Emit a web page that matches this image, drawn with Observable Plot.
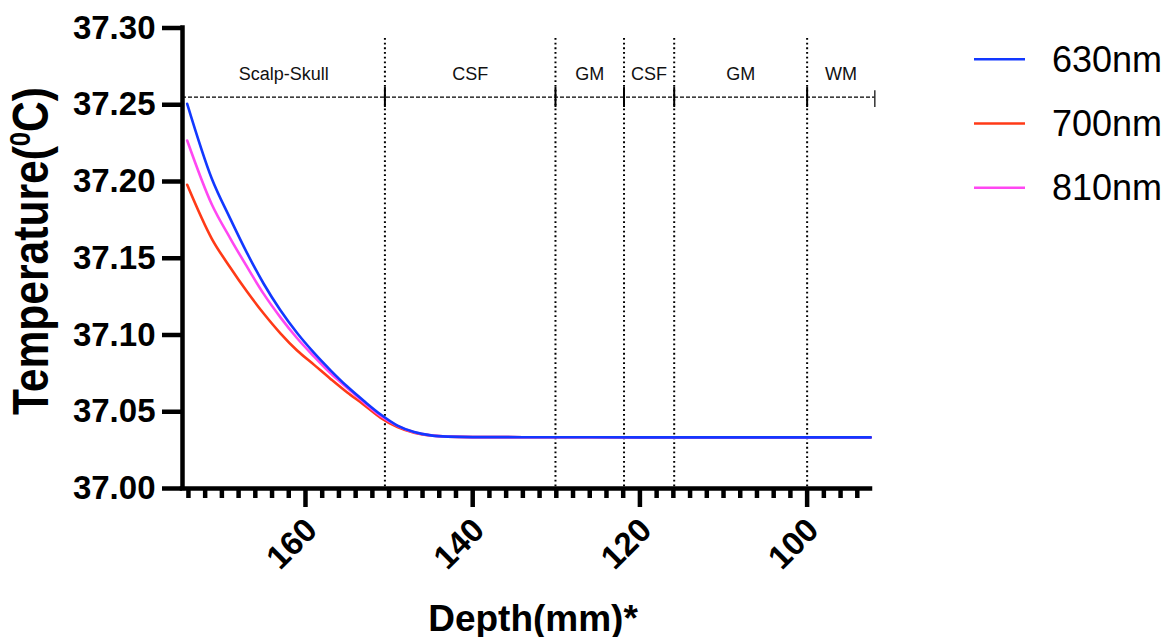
<!DOCTYPE html>
<html>
<head>
<meta charset="utf-8">
<script src="https://cdn.jsdelivr.net/npm/d3@7"></script>
<script src="https://cdn.jsdelivr.net/npm/@observablehq/plot@0.6"></script>
<style>
  html, body { margin: 0; padding: 0; background: #fff; }
  #chart { position: relative; width: 1174px; height: 637px; }
  #legend { position: absolute; left: 960px; top: 20px; }
</style>
</head>
<body>
<div id="chart"></div>
<script>
// Temperature profile through the head, three wavelengths
const depth = [174.15, 171.2, 169, 167, 165, 163, 161, 159, 157, 155, 153, 151, 149, 147, 145, 143, 140, 130, 120, 110, 100, 92.4];
const temp630 = [37.2506, 37.2018, 37.1758, 37.1535, 37.1334, 37.1161, 37.1013, 37.0885, 37.0770, 37.0664, 37.0570, 37.0482, 37.0410, 37.0368, 37.0346, 37.0338, 37.0335, 37.0334, 37.0333, 37.0333, 37.0333, 37.0333];
const temp700 = [37.1979, 37.1627, 37.1440, 37.1283, 37.1140, 37.1011, 37.0899, 37.0807, 37.0714, 37.0625, 37.0545, 37.0460, 37.0400, 37.0363, 37.0345, 37.0338, 37.0335, 37.0334, 37.0333, 37.0333, 37.0333, 37.0333];
const temp810 = [37.2267, 37.1850, 37.1630, 37.1445, 37.1268, 37.1115, 37.0979, 37.0861, 37.0750, 37.0655, 37.0560, 37.0472, 37.0408, 37.0366, 37.0346, 37.0338, 37.0335, 37.0334, 37.0333, 37.0333, 37.0333, 37.0333];

const seriesNames = ["630nm", "700nm", "810nm"];
const seriesColors = ["#1238ff", "#ff3a17", "#ff47f2"];

// tissue layers along the depth axis
const layerNames = ["Scalp-Skull", "CSF", "GM", "CSF", "GM", "WM"];
const layerEdges = [174.71, 150.5, 130.1, 121.9, 115.9, 100, 91.9];

const yTicks = [37.00, 37.05, 37.10, 37.15, 37.20, 37.25, 37.30];
const xMajorTicks = [160, 140, 120, 100];
const xMinorTicks = [174, 172, 170, 168, 166, 164, 162, 158, 156, 154, 152, 150, 148, 146, 144, 142, 138, 136, 134, 132, 130, 128, 126, 124, 122, 118, 116, 114, 112, 110, 108, 106, 104, 102, 98, 96, 94];

const xDomain = [174.71, 92.42];
const yDomain = [37.00, 37.30];

// layer band annotation levels (temperature units)
const bandY = 37.255;
const bandLabelY = 37.2702;
const dividerTop = 37.2932;
const capTop = 37.2612, capBottom = 37.2482;

const FONT = "'Liberation Sans', Arial, Helvetica, sans-serif";

const tables = [temp630, temp700, temp810].map((vals, i) =>
  depth.map((d, j) => ({depth: d, temp: vals[j], series: seriesNames[i]}))
);

const layers = layerNames.map((name, i) => ({
  name,
  mid: (layerEdges[i] + layerEdges[i + 1]) / 2
}));
const dividers = layerEdges.slice(1, -1);
const bandEnd = layerEdges[layerEdges.length - 1];

const drawOrder = [1, 2, 0]; // 700nm, 810nm, then 630nm on top

const chart = Plot.plot({
  width: 1174,
  height: 637,
  marginLeft: 182,
  marginRight: 304,
  marginTop: 27.5,
  marginBottom: 149,
  style: {fontFamily: FONT, color: "#000", background: "#fff", overflow: "visible"},
  x: {domain: xDomain},
  y: {domain: yDomain},
  marks: [
    // dotted layer dividers
    Plot.ruleX(dividers, {x: d => d, y1: dividerTop, y2: yDomain[0], stroke: "#000", strokeWidth: 2, strokeDasharray: "1.8,2.9"}),
    // dashed band line across the top
    Plot.ruleY([bandY], {x1: xDomain[0], x2: bandEnd, stroke: "#000", strokeWidth: 1.3, strokeDasharray: "4,2"}),
    Plot.ruleX(dividers, {x: d => d, y1: capTop, y2: capBottom, stroke: "#000", strokeWidth: 2}),
    Plot.ruleX([bandEnd], {x: d => d, y1: capTop - 0.002, y2: capBottom, stroke: "#000", strokeWidth: 1.2}),
    Plot.text(layers, {x: "mid", y: bandLabelY, text: "name", fontSize: 18, fill: "#111"}),
    // temperature curves
    ...drawOrder.map(i => Plot.line(tables[i], {
      x: "depth", y: "temp", stroke: seriesColors[i], strokeWidth: 2.6, curve: "monotone-x"
    })),
    // axes
    Plot.ruleX([xDomain[0]], {stroke: "#000", strokeWidth: 4.5, strokeLinecap: "square"}),
    Plot.ruleY([yDomain[0]], {stroke: "#000", strokeWidth: 4.5, strokeLinecap: "square"}),
    Plot.axisY({
      ticks: yTicks, tickSize: 20, tickPadding: 7, strokeWidth: 4.5,
      tickFormat: d3.format(".2f"), fontSize: 33, fontWeight: "bold", label: null
    }),
    Plot.axisX({
      ticks: xMinorTicks, tickSize: 10, strokeWidth: 4.5, tickFormat: () => "", label: null
    }),
    Plot.axisX({
      ticks: xMajorTicks, tickSize: 19, strokeWidth: 4.5, tickFormat: () => "", label: null
    }),
    // rotated major tick labels
    Plot.axisX({
      ticks: xMajorTicks, tickSize: 0, tickPadding: 36, tickRotate: -45,
      textAnchor: "end", lineAnchor: "middle", dx: 6,
      fontSize: 33, fontWeight: "bold", label: null
    })
  ]
});

const svg = d3.select(chart);

// axis titles
const yTitle = svg.append("text")
  .attr("transform", "translate(48,251) rotate(-90)")
  .attr("text-anchor", "middle")
  .attr("font-family", FONT)
  .attr("font-size", 50)
  .attr("font-weight", "bold")
  .attr("fill", "#000")
  .attr("textLength", 328)
  .attr("lengthAdjust", "spacingAndGlyphs");
yTitle.append("tspan").text("Temperature(");
yTitle.append("tspan").attr("font-size", 30).attr("dy", -18).text("0");
yTitle.append("tspan").attr("dy", 18).text("C)");

svg.append("text")
  .attr("x", 533)
  .attr("y", 631)
  .attr("text-anchor", "middle")
  .attr("font-family", FONT)
  .attr("font-size", 37)
  .attr("font-weight", "bold")
  .attr("fill", "#000")
  .text("Depth(mm)*");

const container = document.getElementById("chart");
container.appendChild(chart);

// legend
const legend = d3.select(container).append("svg")
  .attr("id", "legend")
  .attr("width", 214)
  .attr("height", 200);
const rows = legend.selectAll("g").data(seriesNames).join("g")
  .attr("transform", (d, i) => `translate(0,${39.3 + i * 64.2})`);
rows.append("line")
  .attr("x1", 14).attr("x2", 65)
  .attr("stroke", (d, i) => seriesColors[i])
  .attr("stroke-width", 2.6);
rows.append("text")
  .attr("x", 92)
  .attr("dominant-baseline", "central")
  .attr("font-family", FONT)
  .attr("font-size", 36)
  .attr("fill", "#000")
  .text(d => d);
</script>
</body>
</html>
